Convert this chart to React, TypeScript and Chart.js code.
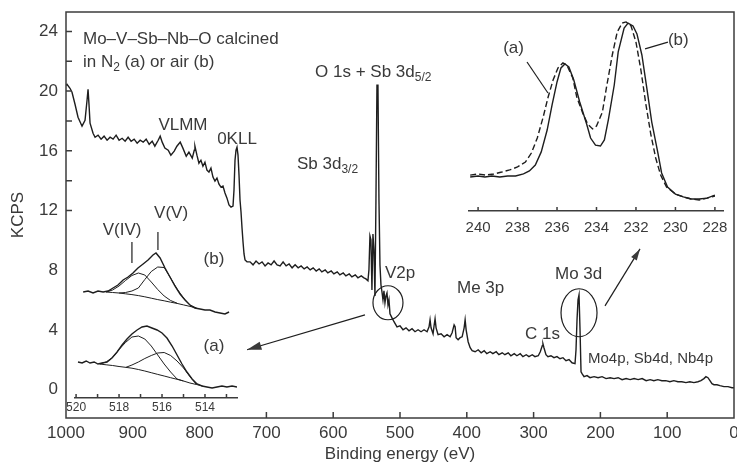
import React, { useEffect, useRef } from 'react';
import { Chart, registerables } from 'chart.js';

Chart.register(...registerables);

const SANS = '"Liberation Sans", Arial, Helvetica, sans-serif';
const INK = '#1e1e1e';
const TEXT = '#3a3a3a';
const FRAME = '#3c3c3c';

// ---- Survey spectrum (binding energy in eV, intensity in KCPS) ----
const surveyEnergy = [
  1000, 998.5, 994, 991, 986.5, 982, 976, 971.5, 968.5, 967,
  965.5, 964, 959.5, 956.5, 952, 947.5, 943, 938.5, 934, 929.5,
  925, 920.5, 916, 911.5, 907, 902.5, 898, 893.5, 889, 884.5,
  880, 875.5, 871, 867, 862, 859, 856, 852, 847, 843,
  838, 834, 829, 825, 820, 816, 811, 808, 807, 804,
  801, 798, 795, 792, 789, 786, 783, 780, 777, 774,
  771, 768, 765, 762, 759, 756, 753, 750, 748.5, 747,
  745.5, 744, 742.5, 741, 739.5, 738, 736.5, 735, 733.5, 732,
  729, 724.5, 720, 715.5, 711, 706.5, 702, 697.5, 693, 688.5,
  684, 679.5, 675, 670.5, 666, 661.5, 657, 652.5, 648, 643.5,
  639, 634.5, 630, 625.5, 621, 617, 612, 608, 603, 599,
  594, 590, 585, 581, 576, 572, 567, 563, 558, 554,
  551, 548, 546.5, 545, 543.5, 542, 540.5, 539, 537.5, 536,
  534.5, 533, 531.5, 530, 528.5, 527, 525.5, 524, 522.5, 521,
  519.5, 518, 516.5, 515, 512, 509, 504.5, 500, 495.5, 491,
  486.5, 482, 477.5, 473, 468.5, 464, 459.5, 456.5, 455, 453.5,
  450.5, 449, 447.5, 446, 443, 438.5, 434, 429.5, 425, 422,
  419, 417.5, 416, 413, 410, 407, 404, 402.5, 401, 398,
  395, 392, 387.5, 383, 378.5, 374, 370, 365, 361, 356,
  352, 347, 343, 338, 334, 329, 325, 320, 316, 311,
  307, 302, 298, 293, 290, 287, 286, 284.5, 281.5, 278.5,
  274, 269.5, 265, 260.5, 256, 251.5, 247, 242.5, 238, 236.5,
  235, 233.5, 232, 230.5, 229, 227.5, 224.5, 220, 215.5, 209.5,
  203.5, 197.5, 191.5, 185.5, 179.5, 173.5, 167.5, 161.5, 155.5, 149.5,
  143.5, 137.5, 131.5, 125.5, 120, 114, 108, 102, 96, 90,
  84, 78, 72, 66, 60, 54, 49.5, 45, 42, 39,
  36, 33, 30, 25.5, 21, 15, 9, 3, 0,
];
const surveyKcps = [
  20.39, 20.45, 20.19, 19.92, 19.12, 18.25, 17.65, 18.05, 19.39, 20.12,
  19.05, 17.85, 17.18, 16.91, 17.05, 16.78, 16.98, 16.71, 16.91, 16.78,
  17.05, 16.71, 16.84, 16.64, 16.91, 16.64, 16.78, 16.51, 16.71, 16.58,
  16.78, 16.44, 16.64, 16.31, 16.71, 16.98, 16.58, 16.18, 16.04, 15.71,
  15.98, 16.31, 16.58, 16.18, 15.64, 15.91, 15.51, 16.04, 16.31, 15.71,
  15.17, 15.37, 14.97, 15.24, 14.71, 14.57, 14.84, 14.24, 13.97, 14.17,
  13.77, 13.57, 13.64, 13.17, 12.83, 12.37, 12.23, 12.3, 13.37, 15.37,
  16.04, 16.24, 15.71, 14.37, 12.7, 11.9, 10.83, 9.89, 9.09, 8.69,
  8.56, 8.56, 8.36, 8.62, 8.42, 8.56, 8.29, 8.49, 8.36, 8.62,
  8.36, 8.29, 8.56, 8.29, 8.42, 8.16, 8.36, 8.16, 8.29, 8.09,
  8.22, 8.02, 8.16, 7.95, 8.09, 7.89, 8.02, 7.82, 7.95, 7.75,
  7.89, 7.69, 7.82, 7.62, 7.75, 7.55, 7.69, 7.49, 7.62, 7.49,
  7.42, 7.29, 8.02, 10.29, 10.03, 6.68, 10.43, 9.36, 6.28, 12.7,
  20.39, 20.39, 12.7, 8.36, 7.02, 6.55, 6.02, 6.62, 5.82, 6.28,
  6.48, 5.68, 6.02, 5.08, 4.81, 4.55, 4.21, 4.28, 4.01, 4.14,
  3.94, 4.08, 3.88, 4.01, 3.88, 4.01, 3.88, 4.21, 4.68, 4.14,
  3.74, 4.28, 4.75, 4.14, 3.68, 3.74, 3.54, 3.68, 3.54, 3.81,
  4.34, 4.21, 3.48, 3.34, 3.48, 3.54, 4.14, 4.68, 4.01, 3.21,
  2.81, 2.61, 2.54, 2.67, 2.47, 2.61, 2.41, 2.54, 2.41, 2.54,
  2.34, 2.47, 2.34, 2.47, 2.27, 2.41, 2.27, 2.41, 2.21, 2.34,
  2.21, 2.34, 2.21, 2.27, 2.54, 2.94, 3.07, 2.81, 2.34, 2.21,
  2.27, 2.14, 2.21, 2.07, 2.14, 1.94, 2.01, 1.8, 1.74, 2.67,
  4.68, 6.02, 6.35, 4.01, 1.2, 1.07, 0.87, 0.94, 0.8, 0.87,
  0.8, 0.87, 0.74, 0.8, 0.74, 0.8, 0.67, 0.74, 0.67, 0.74,
  0.67, 0.74, 0.6, 0.67, 0.6, 0.67, 0.6, 0.6, 0.53, 0.6,
  0.53, 0.53, 0.47, 0.53, 0.47, 0.53, 0.6, 0.74, 0.87, 0.8,
  0.6, 0.4, 0.33, 0.33, 0.27, 0.2, 0.2, 0.13, 0.13,
];
const surveyTickLabelsX = [1000, 900, 800, 700, 600, 500, 400, 300, 200, 100, 0];
const surveyTickLabelsY = [0, 4, 8, 12, 16, 20, 24];
const surveyTickMarksX = [700, 600, 500, 400, 300, 200, 100];
const surveyTickMarksY = [12, 14, 16, 18, 20, 22, 24];

// ---- Mo 3d detail: (a) calcined in N2, (b) calcined in air ----
const moEnergyAir = [
  240.4, 240, 239.65, 239.3, 238.9, 238.5, 238.1, 237.7, 237.4, 237.1,
  236.8, 236.5, 236.25, 236, 235.8, 235.6, 235.4, 235.15, 234.85, 234.5,
  234.3, 234.05, 233.8, 233.6, 233.4, 233.1, 232.9, 232.6, 232.4, 232.15,
  231.95, 231.7, 231.45, 231.2, 230.9, 230.7, 230.4, 230, 229.6, 229.2,
  228.8, 228.4, 228,
];
const moAir = [
  17.9, 18.4, 17.9, 18.4, 17.9, 18.4, 18.4, 19.5, 21.1, 24.2,
  31.1, 42.6, 55.8, 67.9, 75.3, 77.4, 75.8, 68.9, 57.4, 45.8,
  38.4, 34.7, 34.2, 37.4, 47.9, 66.3, 83.7, 96.3, 98.9, 97.4,
  93.2, 82.1, 64.7, 46.8, 31.1, 20.0, 12.6, 8.9, 7.4, 6.3,
  6.3, 6.8, 8.4,
];
const moEnergyN2 = [
  240.4, 240, 239.6, 239.2, 238.8, 238.4, 238, 237.6, 237.3, 237,
  236.7, 236.45, 236.2, 235.95, 235.7, 235.5, 235.2, 235, 234.7, 234.45,
  234.2, 234, 233.7, 233.5, 233.2, 232.95, 232.7, 232.5, 232.25, 232,
  231.75, 231.5, 231.25, 231, 230.75, 230.45, 230, 229.6, 229.2, 228.8,
  228.4, 228,
];
const moN2 = [
  18.9, 19.5, 18.9, 19.5, 20.5, 21.6, 23.2, 25.8, 30.5, 38.4,
  49.5, 60.0, 68.9, 75.3, 77.9, 76.8, 70.0, 60.0, 51.6, 45.8,
  43.2, 44.7, 52.1, 64.7, 82.1, 94.2, 98.9, 99.5, 97.4, 88.9,
  74.2, 56.3, 40.5, 27.9, 18.9, 12.6, 8.9, 7.4, 6.3, 5.8,
  6.8, 7.9,
];
const moTickLabels = [240, 238, 236, 234, 232, 230, 228];

// ---- V 2p detail with V(IV)/V(V) fit ----
const vEnvEnergyAir = [
  519.67, 519.44, 519.21, 518.98, 518.74, 518.51, 518.28, 518.05, 517.81, 517.58,
  517.35, 517.12, 516.88, 516.65, 516.42, 516.28, 516.09, 515.86, 515.63, 515.4,
  515.16, 514.93, 514.7, 514.47, 514.23, 514, 513.77, 513.53, 513.3, 513.07,
  512.88,
];
const vEnvAir = [
  10.6, 10.7, 10.5, 10.7, 10.6, 10.7, 11.0, 11.3, 11.8, 12.1,
  12.5, 13.0, 13.4, 13.8, 14.3, 14.5, 14.0, 13.0, 12.1, 11.2,
  10.4, 9.8, 9.3, 9.0, 8.9, 8.8, 8.8, 8.6, 8.5, 8.4,
  8.6,
];
const vEnvEnergyN2 = [
  519.91, 519.72, 519.53, 519.35, 519.16, 518.98, 518.79, 518.56, 518.33, 518.09,
  517.86, 517.63, 517.4, 517.16, 516.93, 516.7, 516.47, 516.23, 516, 515.77,
  515.53, 515.3, 515.07, 514.84, 514.6, 514.37, 514.14, 513.91, 513.67, 513.44,
  513.21, 512.98, 512.74, 512.51,
];
const vEnvN2 = [
  3.6, 3.5, 3.7, 3.5, 3.6, 3.4, 3.5, 3.6, 4.0, 4.6,
  5.3, 5.9, 6.4, 6.8, 7.1, 7.2, 7.0, 6.8, 6.5, 6.0,
  5.2, 4.3, 3.4, 2.6, 1.9, 1.4, 1.2, 1.1, 1.0, 1.1,
  1.2, 1.1, 1.2, 1.1,
];
const vFitEnergy = [518.9, 518.6, 518.3, 518.0, 517.7, 517.4, 517.1, 516.8, 516.5, 516.2, 515.9, 515.6, 515.3, 515.0, 514.7, 514.4, 514.1];
const vBaseAir = [null, 10.6, 10.55, 10.5, 10.42, 10.34, 10.24, 10.12, 9.98, 9.84, 9.72, 9.58, 9.46, 9.31, 9.16, 9.0, null];
const vIVAir = [null, 10.6, 10.8, 11.2, 11.75, 12.25, 12.5, 12.3, 11.6, 10.85, 10.2, 9.75, 9.48, null, null, null, null];
const vVAir = [null, null, null, 10.5, 10.55, 10.7, 11.0, 11.85, 12.65, 13.1, 13.05, 12.0, 10.9, 10.0, 9.3, 9.0, null];
const vBaseN2 = [3.4, 3.32, 3.25, 3.15, 3.07, 2.98, 2.85, 2.7, 2.53, 2.36, 2.2, 2.03, 1.87, 1.7, 1.5, 1.35, 1.2];
const vIVN2 = [3.4, 3.6, 4.05, 4.85, 5.55, 6.1, 6.2, 5.9, 5.2, 4.3, 3.4, 2.6, 1.9, 1.7, null, null, null];
const vVN2 = [null, null, null, null, 3.05, 3.3, 3.6, 3.95, 4.25, 4.5, 4.55, 4.25, 3.7, 3.0, 2.15, 1.35, null];
const vTickValues = [520, 519, 518, 517, 516, 515, 514, 513];

// ---- helpers ----
const pairs = (xs: number[], ys: (number | null)[]) => xs.map((x, i) => ({ x, y: ys[i] }));

const setTicks = (values: number[]) => (scale: any) => {
  scale.ticks = values.map((value) => ({ value }));
};

const fixSize = (size: number) => (scale: any) => {
  if (scale.isHorizontal()) scale.height = size;
  else scale.width = size;
  scale.paddingLeft = 0;
  scale.paddingRight = 0;
  scale.paddingTop = 0;
  scale.paddingBottom = 0;
};

const plain = (v: number) => String(v);

type Run = { t: string; sub?: boolean };

function drawRuns(ctx: CanvasRenderingContext2D, runs: Run[], x: number, y: number, size: number, align: 'left' | 'center') {
  const subSize = Math.round(size * 0.68);
  const widths = runs.map((r) => {
    ctx.font = `${r.sub ? subSize : size}px ${SANS}`;
    return ctx.measureText(r.t).width;
  });
  const total = widths.reduce((a, b) => a + b, 0);
  let cx = align === 'center' ? x - total / 2 : x;
  ctx.textAlign = 'left';
  ctx.textBaseline = 'middle';
  runs.forEach((r, i) => {
    ctx.font = `${r.sub ? subSize : size}px ${SANS}`;
    ctx.fillText(r.t, cx, r.sub ? y + size * 0.32 : y);
    cx += widths[i];
  });
}

function segment(ctx: CanvasRenderingContext2D, x1: number, y1: number, x2: number, y2: number) {
  ctx.beginPath();
  ctx.moveTo(x1, y1);
  ctx.lineTo(x2, y2);
  ctx.stroke();
}

function arrow(ctx: CanvasRenderingContext2D, x1: number, y1: number, x2: number, y2: number, head: number) {
  segment(ctx, x1, y1, x2, y2);
  const a = Math.atan2(y2 - y1, x2 - x1);
  ctx.beginPath();
  ctx.moveTo(x2, y2);
  ctx.lineTo(x2 - head * Math.cos(a - 0.28), y2 - head * Math.sin(a - 0.28));
  ctx.lineTo(x2 - head * Math.cos(a + 0.28), y2 - head * Math.sin(a + 0.28));
  ctx.closePath();
  ctx.fill();
}

function ellipse(ctx: CanvasRenderingContext2D, cx: number, cy: number, rx: number, ry: number) {
  ctx.beginPath();
  ctx.ellipse(cx, cy, rx, ry, 0, 0, Math.PI * 2);
  ctx.stroke();
}

// Inward tick marks (and optionally the full frame) drawn on the plot area edges.
function innerMarks(id: string, xMarks: number[], yMarks: number[], len: number, frame: boolean) {
  return {
    id,
    afterDatasetsDraw(chart: any) {
      const { ctx, chartArea: a, scales } = chart;
      ctx.save();
      ctx.strokeStyle = FRAME;
      ctx.lineWidth = 1.5;
      ctx.beginPath();
      for (const v of xMarks) {
        const px = scales.x.getPixelForValue(v);
        ctx.moveTo(px, a.bottom);
        ctx.lineTo(px, a.bottom - len);
      }
      for (const v of yMarks) {
        const py = scales.y.getPixelForValue(v);
        ctx.moveTo(a.left, py);
        ctx.lineTo(a.left + len, py);
      }
      ctx.stroke();
      if (frame) ctx.strokeRect(a.left, a.top, a.right - a.left, a.bottom - a.top);
      ctx.restore();
    },
  };
}

const surveyNotes = {
  id: 'surveyNotes',
  afterDraw(chart: any) {
    const { ctx } = chart;
    const X = (e: number) => chart.scales.x.getPixelForValue(e);
    const Y = (v: number) => chart.scales.y.getPixelForValue(v);
    ctx.save();
    ctx.fillStyle = TEXT;
    ctx.strokeStyle = INK;
    ctx.lineWidth = 1.2;
    drawRuns(ctx, [{ t: 'Mo–V–Sb–Nb–O calcined' }], X(974.6), Y(23.46), 17, 'left');
    drawRuns(ctx, [{ t: 'in N' }, { t: '2', sub: true }, { t: ' (a) or air (b)' }], X(974.6), Y(21.93), 17, 'left');
    drawRuns(ctx, [{ t: 'VLMM' }], X(824.9), Y(17.71), 17, 'center');
    drawRuns(ctx, [{ t: '0KLL' }], X(744), Y(16.78), 17, 'center');
    drawRuns(ctx, [{ t: 'O 1s + Sb 3d' }, { t: '5/2', sub: true }], X(627.2), Y(21.26), 17, 'left');
    drawRuns(ctx, [{ t: 'Sb 3d' }, { t: '3/2', sub: true }], X(654.2), Y(15.11), 17, 'left');
    drawRuns(ctx, [{ t: 'V2p' }], X(522.5), Y(7.82), 17, 'left');
    drawRuns(ctx, [{ t: 'Me 3p' }], X(414.7), Y(6.82), 17, 'left');
    drawRuns(ctx, [{ t: 'Mo 3d' }], X(268), Y(7.75), 17, 'left');
    drawRuns(ctx, [{ t: 'C 1s' }], X(312.9), Y(3.68), 17, 'left');
    drawRuns(ctx, [{ t: 'Mo4p, Sb4d, Nb4p' }], X(218.6), Y(2.07), 15, 'left');
    ellipse(ctx, X(518), Y(5.82), 15, 17);
    ellipse(ctx, X(232), Y(5.15), 18, 24);
    arrow(ctx, X(552.4), Y(5.01), X(729), Y(2.67), 15);
    arrow(ctx, X(193.1), Y(5.61), X(140.7), Y(9.43), 12);
    ctx.restore();
  },
};

const moNotes = {
  id: 'moNotes',
  afterDraw(chart: any) {
    const { ctx } = chart;
    const X = (e: number) => chart.scales.x.getPixelForValue(e);
    const Y = (v: number) => chart.scales.y.getPixelForValue(v);
    ctx.save();
    ctx.fillStyle = TEXT;
    ctx.strokeStyle = INK;
    ctx.lineWidth = 1.2;
    drawRuns(ctx, [{ t: '(a)' }], X(238.73), Y(85.8), 17, 'left');
    drawRuns(ctx, [{ t: '(b)' }], X(230.38), Y(90), 17, 'left');
    segment(ctx, X(237.52), Y(78.4), X(236.46), Y(62.1));
    segment(ctx, X(231.54), Y(85.3), X(230.38), Y(88.9));
    ctx.restore();
  },
};

const vNotes = {
  id: 'vNotes',
  afterDraw(chart: any) {
    const { ctx } = chart;
    const X = (e: number) => chart.scales.x.getPixelForValue(e);
    const Y = (v: number) => chart.scales.y.getPixelForValue(v);
    ctx.save();
    ctx.fillStyle = TEXT;
    ctx.strokeStyle = INK;
    ctx.lineWidth = 1.2;
    drawRuns(ctx, [{ t: 'V(IV)' }], X(517.86), Y(16.8), 17, 'center');
    drawRuns(ctx, [{ t: 'V(V)' }], X(515.58), Y(18.5), 17, 'center');
    segment(ctx, X(517.4), Y(15.6), X(517.4), Y(13.5));
    segment(ctx, X(516.19), Y(16.6), X(516.19), Y(14.8));
    drawRuns(ctx, [{ t: '(b)' }], X(513.58), Y(13.9), 17, 'center');
    drawRuns(ctx, [{ t: '(a)' }], X(513.58), Y(5.2), 17, 'center');
    ctx.restore();
  },
};

const line = (data: any[], width: number, dash: number[] = []) => ({
  data,
  borderColor: INK,
  borderWidth: width,
  borderDash: dash,
  pointRadius: 0,
  tension: 0,
  fill: false,
});

const baseOptions = {
  responsive: false,
  animation: false,
  devicePixelRatio: 1,
  events: [],
  plugins: { legend: { display: false }, tooltip: { enabled: false } },
};

function surveyConfig(): any {
  return {
    type: 'line',
    data: { datasets: [line(pairs(surveyEnergy, surveyKcps), 1.4)] },
    options: {
      ...baseOptions,
      layout: { padding: { top: 12, right: 3, left: 0, bottom: 0 } },
      scales: {
        x: {
          type: 'linear',
          reverse: true,
          min: 0,
          max: 1000,
          afterBuildTicks: setTicks(surveyTickLabelsX),
          afterFit: fixSize(48),
          grid: { display: false, drawTicks: false },
          border: { display: false },
          ticks: { autoSkip: false, maxRotation: 0, padding: 5, color: TEXT, font: { family: SANS, size: 17 }, callback: plain },
          title: { display: true, text: 'Binding energy (eV)', color: TEXT, font: { family: SANS, size: 17 }, padding: { top: 0, bottom: 1 } },
        },
        y: {
          type: 'linear',
          min: -1.9,
          max: 25.3,
          afterBuildTicks: setTicks(surveyTickLabelsY),
          afterFit: fixSize(66),
          grid: { display: false, drawTicks: false },
          border: { display: false },
          ticks: { autoSkip: false, padding: 8, color: TEXT, font: { family: SANS, size: 17 }, callback: plain },
          title: { display: true, text: 'KCPS', color: TEXT, font: { family: SANS, size: 17 }, padding: { top: 8, bottom: 0 } },
        },
      },
    },
    plugins: [innerMarks('surveyMarks', surveyTickMarksX, surveyTickMarksY, 6, true), surveyNotes],
  };
}

function moConfig(): any {
  return {
    type: 'line',
    data: {
      datasets: [
        line(pairs(moEnergyN2, moN2), 1.4, [6, 3]),
        line(pairs(moEnergyAir, moAir), 1.4),
      ],
    },
    options: {
      ...baseOptions,
      layout: { padding: { top: 0, right: 7, left: 7, bottom: 0 } },
      scales: {
        x: {
          type: 'linear',
          reverse: true,
          min: 227.59,
          max: 240.46,
          afterBuildTicks: setTicks(moTickLabels),
          afterFit: fixSize(32),
          grid: { display: false, drawTicks: false },
          border: { display: true, color: FRAME, width: 1.6 },
          ticks: { autoSkip: false, maxRotation: 0, padding: 8, color: TEXT, font: { family: SANS, size: 15 }, callback: plain },
        },
        y: { display: false, min: 0, max: 104.2 },
      },
    },
    plugins: [innerMarks('moMarks', moTickLabels, [], 4, false), moNotes],
  };
}

function vConfig(): any {
  return {
    type: 'line',
    data: {
      datasets: [
        line(pairs(vEnvEnergyAir, vEnvAir), 1.4),
        line(pairs(vFitEnergy, vBaseAir), 1),
        line(pairs(vFitEnergy, vIVAir), 1),
        line(pairs(vFitEnergy, vVAir), 1),
        line(pairs(vEnvEnergyN2, vEnvN2), 1.4),
        line(pairs(vFitEnergy, vBaseN2), 1),
        line(pairs(vFitEnergy, vIVN2), 1),
        line(pairs(vFitEnergy, vVN2), 1),
      ],
    },
    options: {
      ...baseOptions,
      layout: { padding: { top: 0, right: 5, left: 8, bottom: 0 } },
      scales: {
        x: {
          type: 'linear',
          reverse: true,
          min: 512.51,
          max: 520.05,
          afterBuildTicks: setTicks(vTickValues),
          afterFit: fixSize(19),
          grid: { display: false, drawTicks: false },
          border: { display: true, color: FRAME, width: 1.6 },
          ticks: {
            autoSkip: false,
            maxRotation: 0,
            padding: 2,
            color: TEXT,
            font: { family: SANS, size: 12 },
            callback: (v: number) => (v % 2 === 0 ? String(v) : ''),
          },
        },
        y: { display: false, min: 0, max: 19.8 },
      },
    },
    plugins: [innerMarks('vMarks', vTickValues, [], 4, false), vNotes],
  };
}

export default function App() {
  const surveyRef = useRef<HTMLCanvasElement>(null);
  const moRef = useRef<HTMLCanvasElement>(null);
  const vRef = useRef<HTMLCanvasElement>(null);

  useEffect(() => {
    const charts = [
      new Chart(surveyRef.current!, surveyConfig()),
      new Chart(moRef.current!, moConfig()),
      new Chart(vRef.current!, vConfig()),
    ];
    return () => charts.forEach((c) => c.destroy());
  }, []);

  return (
    <div style={{ position: 'fixed', left: 0, top: 0, width: 737, height: 466, background: '#ffffff' }}>
      <canvas ref={surveyRef} width={737} height={466} style={{ position: 'absolute', left: 0, top: 0 }} />
      <canvas ref={moRef} width={268} height={230} style={{ position: 'absolute', left: 462, top: 13 }} />
      <canvas ref={vRef} width={175} height={217} style={{ position: 'absolute', left: 67, top: 200 }} />
    </div>
  );
}
